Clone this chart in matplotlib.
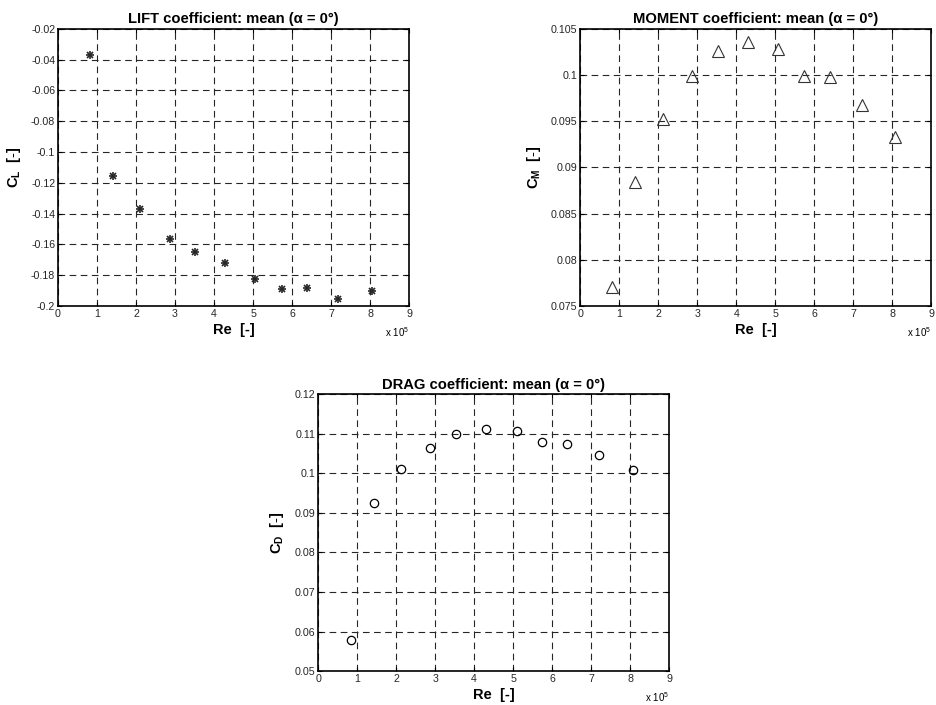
import matplotlib.pyplot as plt
import numpy as np

plt.rcParams['font.family'] = ['Liberation Sans', 'DejaVu Sans']
plt.rcParams['mathtext.fontset'] = 'custom'
plt.rcParams['mathtext.rm'] = 'Liberation Sans'
plt.rcParams['mathtext.bf'] = 'Liberation Sans:bold'

# Data (Re in units of 1e5)
re_lift = [0.81, 1.41, 2.11, 2.86, 3.50, 4.28, 5.06, 5.73, 6.38, 7.19, 8.06]
cl = [-0.0371, -0.1154, -0.1371, -0.1567, -0.1649, -0.1723, -0.1823,
      -0.1892, -0.1885, -0.1955, -0.1900]
re_mom = [0.82, 1.41, 2.12, 2.87, 3.52, 4.30, 5.08, 5.74, 6.39, 7.21, 8.08]
cm = [0.0771, 0.0884, 0.0952, 0.0999, 0.1026, 0.1036, 0.1028, 0.0999,
      0.0998, 0.0968, 0.0933]
re_drag = [0.84, 1.42, 2.12, 2.87, 3.52, 4.30, 5.09, 5.75, 6.39, 7.19, 8.07]
cd = [0.0578, 0.0925, 0.1011, 0.1064, 0.1099, 0.1111, 0.1107, 0.1079,
      0.1074, 0.1046, 0.1007]

fig = plt.figure(figsize=(9.36, 7.05), dpi=100)
ax1 = fig.add_axes([0.062, 0.566, 0.375, 0.393])
ax2 = fig.add_axes([0.620, 0.566, 0.375, 0.393])
ax3 = fig.add_axes([0.340, 0.048, 0.375, 0.393])


def style(ax, ylim, yticks, ylabels, title, ylabel):
    ax.set_xlim(0, 9)
    ax.set_xticks(np.arange(0, 10))
    ax.set_ylim(*ylim)
    ax.set_yticks(yticks)
    ax.set_yticklabels(ylabels)
    ax.grid(True, color='0.15', linestyle=(0, (6, 4)), linewidth=0.8)
    ax.tick_params(direction='in', length=3, labelsize=7.7, top=True,
                   right=True, pad=2, colors='black', labelcolor='0.15')
    for s in ax.spines.values():
        s.set_linewidth(1.2)
    ax.set_title(title, fontsize=10.6, fontweight='bold', pad=4)
    ax.set_xlabel('Re  [-]', fontsize=10.5, fontweight='bold', labelpad=3)
    ax.set_ylabel(ylabel, fontsize=10.5, labelpad=6)
    ax.text(1.0, -0.093, r'x 10$^5$', transform=ax.transAxes,
            fontsize=7, ha='right', va='center')


# asterisk marker = plus + cross
ax1.plot(re_lift, cl, linestyle='none', marker='+', color='0.15',
         markersize=6, markeredgewidth=1.2)
ax1.plot(re_lift, cl, linestyle='none', marker='x', color='0.15',
         markersize=4.5, markeredgewidth=1.2)
style(ax1, (-0.2, -0.02), np.arange(-0.2, -0.019, 0.02),
      ['-0.2', '-0.18', '-0.16', '-0.14', '-0.12', '-0.1', '-0.08',
       '-0.06', '-0.04', '-0.02'],
      'LIFT coefficient: mean (α = 0°)', r'$\mathbf{C_L}$  $\mathbf{[\text{-}]}$')

ax2.plot(re_mom, cm, linestyle='none', marker='^', markerfacecolor='none',
         markeredgecolor='0.2', markersize=8, markeredgewidth=0.8)
style(ax2, (0.075, 0.105), np.arange(0.075, 0.1051, 0.005),
      ['0.075', '0.08', '0.085', '0.09', '0.095', '0.1', '0.105'],
      'MOMENT coefficient: mean (α = 0°)', r'$\mathbf{C_M}$  $\mathbf{[\text{-}]}$')

ax3.plot(re_drag, cd, linestyle='none', marker='o', markerfacecolor='none',
         markeredgecolor='black', markersize=6, markeredgewidth=0.9)
style(ax3, (0.05, 0.12), np.arange(0.05, 0.1201, 0.01),
      ['0.05', '0.06', '0.07', '0.08', '0.09', '0.1', '0.11', '0.12'],
      'DRAG coefficient: mean (α = 0°)', r'$\mathbf{C_D}$  $\mathbf{[\text{-}]}$')

plt.savefig('out.png', dpi=100)
